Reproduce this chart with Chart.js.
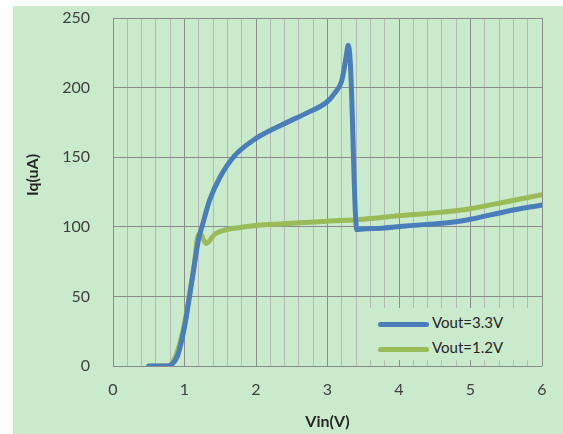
<!DOCTYPE html>
<html>
<head>
<meta charset="utf-8">
<script src="https://cdn.jsdelivr.net/npm/chart.js@4.4.0/dist/chart.umd.min.js"></script>
<style>
  body { margin: 0; background: #fff; width: 563px; height: 434px; overflow: hidden; }
  #wrap { position: absolute; left: 13px; top: 6px; width: 550px; height: 428px; background: #c9ebcb; }
  #legend { position: absolute; left: 355px; top: 302px; width: 172px; height: 52px; background: #c9ebcb;
            font-family: Lato, sans-serif; font-size: 15px; color: #262626; }
  .item { position: absolute; left: 10px; height: 20px; line-height: 20px; white-space: nowrap; }
  .swatch { display: inline-block; width: 51px; height: 5px; border-radius: 3px; vertical-align: middle; margin-right: 3px; }
</style>
</head>
<body>
<div id="wrap">
  <canvas id="chart"></canvas>
  <div id="legend"></div>
</div>
<script>
// Vout=3.3V curve
var vin33 = [0.5, 0.75, 0.9, 1.0, 1.1, 1.2, 1.25, 1.35, 1.5, 1.7, 2.0, 2.35, 2.7, 3.0, 3.1, 3.2, 3.26, 3.29, 3.32, 3.41, 3.5, 3.75, 4.1, 4.8, 5.0, 5.5, 6.0];
var iq33 = [0, 0, 7, 28, 60, 92, 101, 119, 136, 151, 163.5, 173, 181.5, 190, 196, 205, 222, 230.5, 217, 98, 98.5, 99, 100.6, 103.7, 105.4, 111, 115.7];
// Vout=1.2V curve
var vin12 = [0.5, 0.77, 0.89, 1.01, 1.08, 1.14, 1.18, 1.22, 1.3, 1.43, 1.59, 1.78, 2.0, 2.5, 3.0, 3.5, 4.0, 4.5, 5.0, 5.5, 6.0];
var iq12 = [0, 0, 9, 33, 55, 74, 92, 95, 88, 95, 98, 99.5, 101, 102.5, 104, 105.5, 108, 110, 113, 118, 123];

var seriesNames = ['Vout=3.3V', 'Vout=1.2V'];
var seriesColors = ['#4a7ebb', '#9bbb59'];
var xTitle = 'Vin(V)';
var yTitle = 'Iq(uA)';

function toPoints(xs, ys) {
  var pts = [];
  for (var i = 0; i < xs.length; i++) pts.push({ x: xs[i], y: ys[i] });
  return pts;
}

function isWhole(v) { return Math.abs(v - Math.round(v)) < 1e-6; }

var yTitlePlugin = {
  id: 'yTitle',
  afterDraw: function (chart) {
    var ctx = chart.ctx;
    var area = chart.chartArea;
    ctx.save();
    ctx.translate(area.left - 80, (area.top + area.bottom) / 2 - 17);
    ctx.rotate(-Math.PI / 2);
    ctx.font = 'bold 16px Lato, sans-serif';
    ctx.fillStyle = '#262626';
    ctx.textAlign = 'center';
    ctx.textBaseline = 'middle';
    ctx.fillText(yTitle, 0, 0);
    ctx.restore();
  }
};

var chart = new Chart(document.getElementById('chart'), {
  type: 'line',
  data: {
    datasets: [
      { label: seriesNames[0], data: toPoints(vin33, iq33), borderColor: seriesColors[0] },
      { label: seriesNames[1], data: toPoints(vin12, iq12), borderColor: seriesColors[1] }
    ]
  },
  options: {
    responsive: true,
    maintainAspectRatio: false,
    animation: false,
    layout: { padding: { left: 0, top: 12, right: 21, bottom: 0 } },
    elements: {
      point: { radius: 0 },
      line: { borderWidth: 5, cubicInterpolationMode: 'monotone', borderCapStyle: 'round', borderJoinStyle: 'round', fill: false }
    },
    plugins: { legend: { display: false }, tooltip: { enabled: false } },
    scales: {
      x: {
        type: 'linear', min: 0, max: 6,
        afterFit: function (s) { s.height = 68; s.paddingLeft = 0; s.paddingRight = 0; },
        ticks: {
          stepSize: 0.2, autoSkip: false, maxRotation: 0, padding: 14,
          color: '#404040', font: { family: 'Lato, sans-serif', size: 16 },
          callback: function (v) { return isWhole(v) ? String(Math.round(v)) : ''; }
        },
        grid: {
          drawTicks: false,
          color: function (c) { return isWhole(c.tick.value) ? '#8c8c8c' : '#b8b8b8'; },
          lineWidth: 1
        },
        border: { display: false },
        title: { display: true, text: xTitle, color: '#262626', font: { family: 'Lato, sans-serif', size: 16, weight: 'bold' }, padding: { top: 0, bottom: 3 } }
      },
      y: {
        min: 0, max: 250,
        afterFit: function (s) { s.width = 100; s.paddingTop = 0; s.paddingBottom = 0; },
        ticks: { stepSize: 50, padding: 23, color: '#404040', font: { family: 'Lato, sans-serif', size: 16 } },
        grid: { drawTicks: false, color: '#8c8c8c', lineWidth: 1 },
        border: { display: false }
      }
    }
  },
  plugins: [yTitlePlugin]
});

var legend = document.getElementById('legend');
for (var i = 0; i < seriesNames.length; i++) {
  var item = document.createElement('div');
  item.className = 'item';
  item.style.top = (4 + i * 25) + 'px';
  var sw = document.createElement('span');
  sw.className = 'swatch';
  sw.style.background = seriesColors[i];
  item.appendChild(sw);
  item.appendChild(document.createTextNode(seriesNames[i]));
  legend.appendChild(item);
}
</script>
</body>
</html>
